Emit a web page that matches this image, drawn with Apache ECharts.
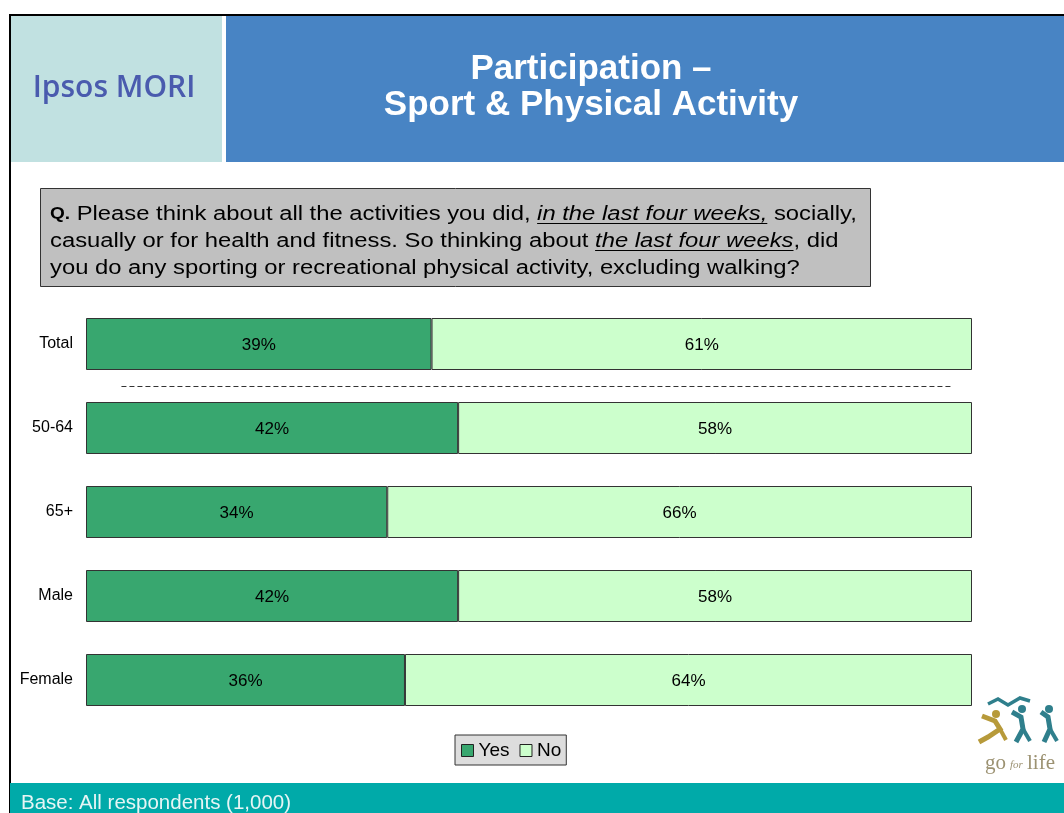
<!DOCTYPE html>
<html><head><meta charset="utf-8">
<script src="https://cdn.jsdelivr.net/npm/echarts@6/dist/echarts.min.js"></script>
<style>html,body{margin:0;padding:0;background:#fff}#c{width:1064px;height:813px}</style>
</head><body><div id="c"></div>
<script>
// ---- data ----
const categories = ['Total', '50-64', '65+', 'Male', 'Female'];
const yesValues = [39, 42, 34, 42, 36];
const noValues = [61, 58, 66, 58, 64];
const seriesNames = ['Yes', 'No'];
const titleLines = ['Participation –', 'Sport & Physical Activity'];
const baseText = 'Base: All respondents (1,000)';
const separatorRange = [4, 97.7]; // dashed separator between Total and the sub-groups (x values)

const FONT = '"Liberation Sans", Arial, sans-serif';
const chart = echarts.init(document.getElementById('c'), null, {renderer: 'canvas'});

// measure helper for question text segments
const mctx = document.createElement('canvas').getContext('2d');
function measure(txt, size, bold, italic) {
  mctx.font = (italic ? 'italic ' : '') + (bold ? 'bold ' : '') + size + 'px ' + FONT;
  return mctx.measureText(txt).width;
}
const QS = 20, QSX = 1.19;
const qLines = [
  [{t: 'Q.', b: true, s: 16}, {t: ' Please think about all the activities you did, '}, {t: 'in the last four weeks,', i: true, u: true}, {t: ' socially,'}],
  [{t: 'casually or for health and fitness. So thinking about '}, {t: 'the last four weeks', i: true, u: true}, {t: ', did'}],
  [{t: 'you do any sporting or recreational physical activity, excluding walking?'}]
];
const qGraphics = [];
qLines.forEach((line, li) => {
  let x = 50;
  const y = 214 + li * 27;
  line.forEach(seg => {
    const s = seg.s || QS;
    const w = measure(seg.t, s, seg.b, seg.i) * QSX;
    qGraphics.push({
      type: 'text', x: x, y: seg.s ? y + 1 : y, z: 20, scaleX: QSX,
      style: {text: seg.t, fill: '#000', font: (seg.i ? 'italic ' : '') + (seg.b ? 'bold ' : '') + s + 'px ' + FONT,
        textAlign: 'left', textVerticalAlign: 'middle'}
    });
    if (seg.u) {
      qGraphics.push({type: 'line', z: 20, shape: {x1: x, y1: y + 9.5, x2: x + w, y2: y + 9.5}, style: {stroke: '#000', lineWidth: 1.2}});
    }
    x += w;
  });
});

const baseGraphics = [
  // frame lines
  {type: 'rect', shape: {x: 9, y: 14, width: 1055, height: 2}, style: {fill: '#000'}, z: 5},
  {type: 'rect', shape: {x: 9, y: 14, width: 2, height: 799}, style: {fill: '#000'}, z: 5},
  // header panels
  {type: 'rect', shape: {x: 11, y: 16, width: 211, height: 146}, style: {fill: '#C1E1E1'}, z: 1},
  {type: 'rect', shape: {x: 226, y: 16, width: 838, height: 146}, style: {fill: '#4884C4'}, z: 1},
  {type: 'text', x: 114, y: 88, z: 10, style: {text: 'Ipsos MORI', fill: '#4A5BAE', font: '600 30px "Open Sans", sans-serif', textAlign: 'center', textVerticalAlign: 'middle'}},
  {type: 'text', x: 591, y: 69, z: 10, style: {text: titleLines[0], fill: '#fff', font: 'bold 35px ' + FONT, textAlign: 'center', textVerticalAlign: 'middle'}},
  {type: 'text', x: 591, y: 105, z: 10, style: {text: titleLines[1], fill: '#fff', font: 'bold 35px ' + FONT, textAlign: 'center', textVerticalAlign: 'middle'}},
  // question box
  {type: 'rect', shape: {x: 40.5, y: 188.5, width: 830, height: 98}, style: {fill: '#C0C0C0', stroke: '#333', lineWidth: 1}, z: 2},
  // footer
  {type: 'rect', shape: {x: 10, y: 783, width: 1054, height: 30}, style: {fill: '#00AAA9'}, z: 6},
  {type: 'text', x: 21, y: 803, z: 10, style: {text: baseText, fill: '#E6F5F5', font: '20.5px ' + FONT, textAlign: 'left', textVerticalAlign: 'middle'}},
  // logo (go for life)
  {type: 'text', x: 985, y: 763, z: 10, style: {text: 'go', fill: '#9C9272', font: '21px "Liberation Serif", serif', textAlign: 'left', textVerticalAlign: 'middle'}},
  {type: 'text', x: 1010, y: 765, z: 10, style: {text: 'for', fill: '#9C9272', font: 'italic 11px "Liberation Serif", serif', textAlign: 'left', textVerticalAlign: 'middle'}},
  {type: 'text', x: 1027, y: 763, z: 10, style: {text: 'life', fill: '#9C9272', font: '21px "Liberation Serif", serif', textAlign: 'left', textVerticalAlign: 'middle'}},
  {type: 'polyline', z: 10, shape: {points: [[988, 704], [998, 699], [1008, 705], [1020, 698], [1030, 701]]}, style: {stroke: '#2F7F8C', lineWidth: 3.5, fill: null}},
  {type: 'circle', z: 10, shape: {cx: 996, cy: 714, r: 4}, style: {fill: '#B79A3A'}},
  {type: 'polyline', z: 10, shape: {points: [[982, 716], [995, 721], [1000, 729], [988, 737], [979, 742]]}, style: {stroke: '#B79A3A', lineWidth: 5, fill: null}},
  {type: 'polyline', z: 10, shape: {points: [[1000, 729], [1006, 740]]}, style: {stroke: '#B79A3A', lineWidth: 4, fill: null}},
  {type: 'circle', z: 10, shape: {cx: 1022, cy: 709, r: 4}, style: {fill: '#2F7F8C'}},
  {type: 'polyline', z: 10, shape: {points: [[1012, 712], [1021, 717], [1023, 729], [1016, 742]]}, style: {stroke: '#2F7F8C', lineWidth: 5, fill: null}},
  {type: 'polyline', z: 10, shape: {points: [[1023, 729], [1030, 741]]}, style: {stroke: '#2F7F8C', lineWidth: 4, fill: null}},
  {type: 'circle', z: 10, shape: {cx: 1049, cy: 709, r: 4}, style: {fill: '#2F7F8C'}},
  {type: 'polyline', z: 10, shape: {points: [[1041, 712], [1048, 717], [1050, 729], [1044, 742]]}, style: {stroke: '#2F7F8C', lineWidth: 5, fill: null}},
  {type: 'polyline', z: 10, shape: {points: [[1050, 729], [1057, 741]]}, style: {stroke: '#2F7F8C', lineWidth: 4, fill: null}}
].concat(qGraphics);

const option = {
  animation: false,
  backgroundColor: '#fff',
  textStyle: {fontFamily: FONT},
  grid: {left: 86, top: 302, width: 886, height: 420, containLabel: false},
  xAxis: {type: 'value', min: 0, max: 100, show: false},
  yAxis: {
    type: 'category', data: categories, inverse: true,
    axisLine: {show: false}, axisTick: {show: false}, splitLine: {show: false},
    axisLabel: {color: '#000', fontSize: 16, margin: 13, fontFamily: FONT}
  },
  legend: {
    data: seriesNames, left: 455, top: 735, orient: 'horizontal',
    backgroundColor: '#DDDDDD', borderColor: '#333', borderWidth: 1,
    padding: [6, 5, 5, 6], itemWidth: 12, itemHeight: 12, itemGap: 10, icon: 'rect',
    itemStyle: {borderColor: '#222', borderWidth: 1},
    textStyle: {color: '#000', fontSize: 19, fontFamily: FONT, padding: [0, 0, 0, 0]}
  },
  series: [
    {
      name: seriesNames[0], type: 'bar', stack: 'a', data: yesValues, barWidth: 52,
      itemStyle: {color: '#38A76F', borderColor: '#333', borderWidth: 1},
      label: {show: true, position: 'inside', formatter: '{c}%', color: '#000', fontSize: 17, fontFamily: FONT, offset: [0, 1]}
    },
    {
      name: seriesNames[1], type: 'bar', stack: 'a', data: noValues, barWidth: 52,
      itemStyle: {color: '#CCFFCC', borderColor: '#333', borderWidth: 1},
      label: {show: true, position: 'inside', formatter: '{c}%', color: '#000', fontSize: 17, fontFamily: FONT, offset: [0, 1]}
    }
  ]
};
chart.setOption(option);

// dashed separator placed halfway between the first two category bands, via the axes
const pA = chart.convertToPixel({gridIndex: 0}, [separatorRange[0], categories[0]]);
const pB = chart.convertToPixel({gridIndex: 0}, [separatorRange[1], categories[1]]);
const sepY = Math.round((pA[1] + pB[1]) / 2) + 0.5;
const sepLine = {type: 'line', z: 10, shape: {x1: pA[0], y1: sepY, x2: pB[0], y2: sepY},
  style: {stroke: '#333', lineWidth: 1, lineDash: [5, 3]}};

chart.setOption({graphic: baseGraphics.concat([sepLine])});
</script>
</body></html>
